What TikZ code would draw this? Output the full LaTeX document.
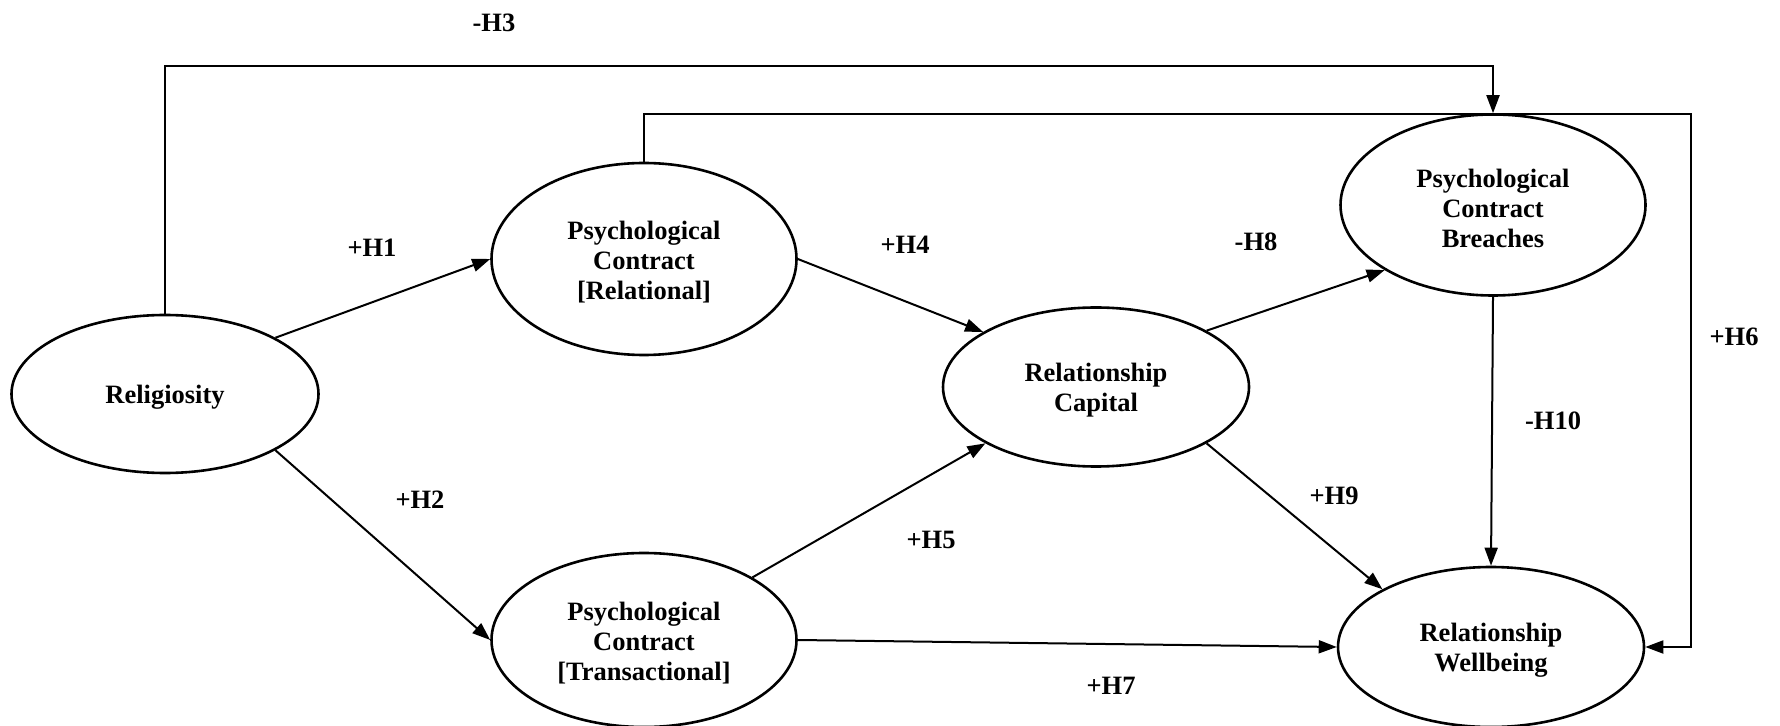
\documentclass[tikz,border=0pt]{standalone}
\usepackage{fontspec}
\setmainfont{Liberation Serif}
\usetikzlibrary{shapes.geometric,arrows.meta}
\newcommand{\toppad}{\rule{0pt}{12.4pt}}
\begin{document}
\begin{tikzpicture}[x=0.5pt,y=-0.5pt,
  every node/.style={font=\fontsize{13.25}{15}\selectfont\bfseries},
  latent/.style={ellipse,draw,line width=1.3pt,align=center,inner sep=0pt},
  conn/.style={line width=1pt,-{Triangle[length=9pt,width=6.5pt]}},
  hyp/.style={inner sep=1pt}]
\useasboundingbox (0,0) rectangle (1780,726);
% nodes
\node[latent,minimum width=153.5pt,minimum height=79pt] (rel) at (165,394) {\toppad Religiosity};
\node[latent,minimum width=152.5pt,minimum height=96pt] (pcr) at (644,259) {\toppad Psychological\\Contract\\{[Relational]}};
\node[latent,minimum width=152.5pt,minimum height=87pt] (pct) at (644,640) {\toppad Psychological\\Contract\\{[Transactional]}};
\node[latent,minimum width=153pt,minimum height=79.5pt] (rc) at (1096,387) {\toppad Relationship\\Capital};
\node[latent,minimum width=152.5pt,minimum height=90.5pt] (pcb) at (1493,205) {\toppad Psychological\\Contract\\Breaches};
\node[latent,minimum width=153pt,minimum height=80pt] (rw) at (1491,647) {\toppad Relationship\\Wellbeing};
% bend coordinates
\coordinate (h3) at (1493,66);
\coordinate (h6) at (1691,114);
% connectors
\draw[conn] (rel.27) -- (pcr.west);
\draw[conn] (rel.-27) -- (pct.west);
\draw[conn] (rel.north) |- (h3) -- (pcb.north);
\draw[conn] (pcr.north) |- (h6) |- (rw.east);
\draw[conn] (pcr.east) -- (rc.154);
\draw[conn] (pct.30) -- (rc.207);
\draw[conn] (pct.east) -- (rw.west);
\draw[conn] (rc.27.6) -- (pcb.211.6);
\draw[conn] (rc.-27) -- (rw.152);
\draw[conn] (pcb.south) -- (rw.north);
% labels
\node[hyp] (l3) at (494,23) {-H3};
\node[hyp] (l1) at (372,248) {+H1};
\node[hyp] (l2) at (420,500) {+H2};
\node[hyp] (l4) at (905,245) {+H4};
\node[hyp] (l5) at (931,540) {+H5};
\node[hyp] (l6) at (1734,337) {+H6};
\node[hyp] (l7) at (1111,686) {+H7};
\node[hyp] (l8) at (1256,242) {-H8};
\node[hyp] (l9) at (1334,496) {+H9};
\node[hyp] (l10) at (1553,421) {-H10};
\end{tikzpicture}
\end{document}
